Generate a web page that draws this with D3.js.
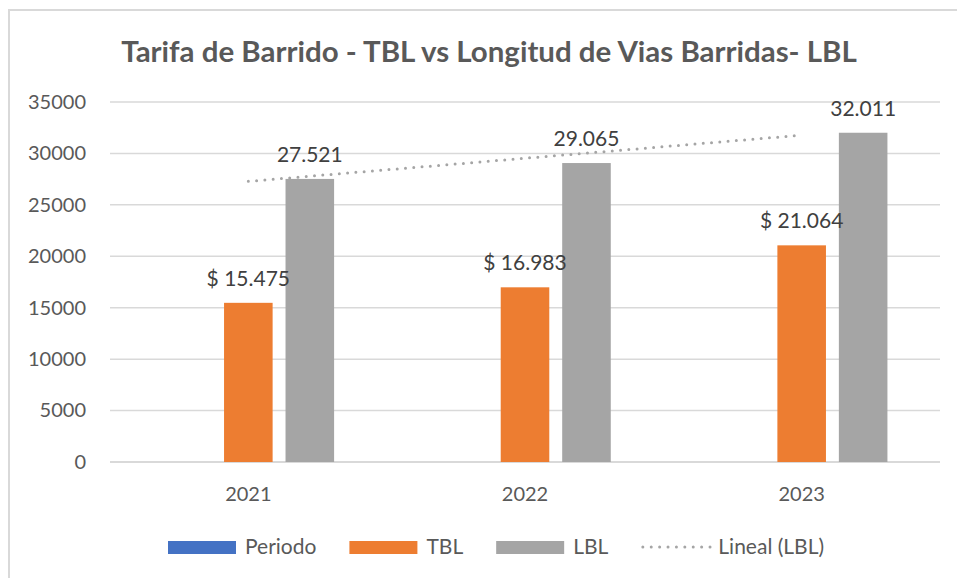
<!DOCTYPE html>
<html>
<head>
<meta charset="utf-8">
<script src="https://cdn.jsdelivr.net/npm/d3@7"></script>
<style>
  body { margin: 0; background: #fff; }
  svg { display: block; font-family: Lato, "Open Sans", sans-serif; }
</style>
</head>
<body>
<script>
// chart data
const years = ['2021', '2022', '2023'];
const seriesNames = ['Periodo', 'TBL', 'LBL'];
const periodo = [null, null, null];   // empty series, only shows in legend
const tbl = [15475, 16983, 21064];
const lbl = [27521, 29065, 32011];
const yTicks = [0, 5000, 10000, 15000, 20000, 25000, 30000, 35000];
const colors = { Periodo: '#4472c4', TBL: '#ed7d31', LBL: '#a5a5a5' };

const width = 957, height = 578;
const plot = { left: 110, right: 940, top: 102, bottom: 462 };

const svg = d3.select('body').append('svg')
  .attr('width', width)
  .attr('height', height);

// chart frame
svg.append('rect')
  .attr('x', 9).attr('y', 10)
  .attr('width', 970).attr('height', 600)
  .attr('fill', '#fff')
  .attr('stroke', '#d9d9d9')
  .attr('stroke-width', 2);

// title, fitted to width
const title = svg.append('text')
  .attr('x', 489).attr('y', 62)
  .attr('text-anchor', 'middle')
  .attr('font-weight', 'bold')
  .attr('font-size', 26)
  .attr('fill', '#595959')
  .text('Tarifa de Barrido - TBL vs Longitud de Vias Barridas- LBL');
const tw = title.node().getComputedTextLength();
title.attr('font-size', 26 * 736 / tw);

const y = d3.scaleLinear().domain([0, 35000]).range([plot.bottom, plot.top]);
const x0 = d3.scaleBand().domain(years).range([plot.left, plot.right])
  .paddingInner(0.38).paddingOuter(0.19);
const x1 = d3.scaleBand().domain(seriesNames).range([0, x0.bandwidth()])
  .paddingInner(0.21);

// gridlines
svg.append('g').selectAll('line')
  .data(yTicks)
  .enter().append('line')
  .attr('x1', plot.left).attr('x2', plot.right)
  .attr('y1', d => y(d)).attr('y2', d => y(d))
  .attr('stroke', '#d9d9d9')
  .attr('stroke-width', d => d === 0 ? 2 : 1.5);

// y axis labels
const yAxis = d3.axisLeft(y).tickValues(yTicks).tickSize(0).tickPadding(0)
  .tickFormat(d3.format('d'));
svg.append('g')
  .attr('transform', 'translate(86,0)')
  .call(yAxis)
  .call(g => g.select('.domain').remove())
  .call(g => g.selectAll('text')
    .attr('font-size', 20).attr('fill', '#595959')
    .attr('font-family', 'Lato, sans-serif'));

// x axis labels
svg.append('g').selectAll('text')
  .data(years)
  .enter().append('text')
  .attr('x', d => x0(d) + x0.bandwidth() / 2)
  .attr('y', 501)
  .attr('text-anchor', 'middle')
  .attr('font-size', 20)
  .attr('fill', '#595959')
  .text(d => d);

// bars
const rows = years.map((yr, i) => ({ year: yr, Periodo: periodo[i], TBL: tbl[i], LBL: lbl[i] }));
const groups = svg.append('g').selectAll('g')
  .data(rows)
  .enter().append('g')
  .attr('transform', d => 'translate(' + x0(d.year) + ',0)');

groups.selectAll('rect')
  .data(d => seriesNames.filter(s => d[s] != null).map(s => ({ key: s, value: d[s] })))
  .enter().append('rect')
  .attr('x', d => x1(d.key))
  .attr('y', d => y(d.value))
  .attr('width', x1.bandwidth())
  .attr('height', d => y(0) - y(d.value))
  .attr('fill', d => colors[d.key]);

// data labels
const fmt = d3.formatLocale({ decimal: ',', thousands: '.', grouping: [3], currency: ['$', ''] }).format(',d');
groups.selectAll('text.lbl')
  .data(d => ['TBL', 'LBL'].map(s => ({ key: s, value: d[s] })))
  .enter().append('text')
  .attr('class', 'lbl')
  .attr('x', d => x1(d.key) + x1.bandwidth() / 2)
  .attr('y', d => y(d.value) - 17)
  .attr('text-anchor', 'middle')
  .attr('font-size', 21)
  .attr('fill', '#404040')
  .text(d => (d.key === 'TBL' ? '$ ' : '') + fmt(d.value));

// linear trendline for LBL (least squares over category index)
const n = lbl.length;
const xs = d3.range(1, n + 1);
const mx = d3.mean(xs), my = d3.mean(lbl);
const slope = d3.sum(xs, (v, i) => (v - mx) * (lbl[i] - my)) / d3.sum(xs, v => (v - mx) ** 2);
const icpt = my - slope * mx;
const trend = [1, n].map(v => ({ year: years[v - 1], value: icpt + slope * v }));
svg.append('path')
  .datum(trend)
  .attr('d', d3.line().x(d => x0(d.year) + x0.bandwidth() / 2).y(d => y(d.value)))
  .attr('fill', 'none')
  .attr('stroke', '#a5a5a5')
  .attr('stroke-width', 3)
  .attr('stroke-linecap', 'round')
  .attr('stroke-dasharray', '0 8.3');

// legend
const legendItems = ['Periodo', 'TBL', 'LBL', 'Lineal (LBL)'];
const legend = svg.append('g');
let lx = 168;
legendItems.forEach(name => {
  if (name === 'Lineal (LBL)') {
    legend.append('line')
      .attr('x1', lx + 1.5).attr('x2', lx + 69).attr('y1', 547).attr('y2', 547)
      .attr('stroke', '#a5a5a5').attr('stroke-width', 3)
      .attr('stroke-linecap', 'round').attr('stroke-dasharray', '0 8.4');
  } else {
    legend.append('rect')
      .attr('x', lx).attr('y', 541)
      .attr('width', 68).attr('height', 13)
      .attr('fill', colors[name]);
  }
  const t = legend.append('text')
    .attr('x', lx + 77).attr('y', 554)
    .attr('font-size', 21)
    .attr('fill', '#595959')
    .text(name);
  lx += 77 + t.node().getComputedTextLength() + 33;
});
</script>
</body>
</html>
